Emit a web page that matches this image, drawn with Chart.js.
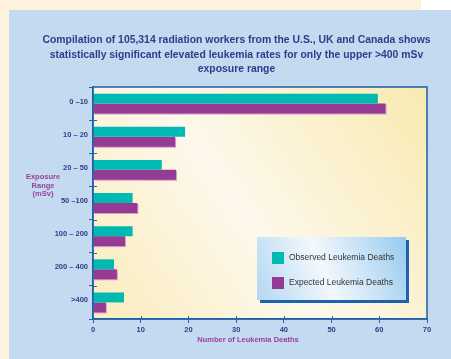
<!DOCTYPE html>
<html lang="en">
<head>
    <meta charset="UTF-8">
    <title>Leukemia deaths by exposure range</title>
    <script src="https://cdn.jsdelivr.net/npm/chart.js"></script>
    <style>
        body {
            margin: 0;
            padding: 0;
            overflow: hidden;
            background-color: #fef2dc;
        }
    </style>
</head>
<body>
<canvas id="leukemiaChart" width="451" height="359"></canvas>

<script>
    // data
    const exposureRanges = ['0 \u201310', '10 \u2013 20', '20 \u2013 50', '50 \u2013100', '100 \u2013 200', '200 \u2013 400', '>400'];
    const observedDeaths = [59.7, 19.3, 14.4, 8.3, 8.3, 4.4, 6.5];
    const expectedDeaths = [61.3, 17.2, 17.4, 9.3, 6.7, 5.0, 2.7];
    const xTicks = [0, 10, 20, 30, 40, 50, 60, 70];
    const seriesNames = ['Observed Leukemia Deaths', 'Expected Leukemia Deaths'];
    const titleLines = [
        'Compilation of 105,314 radiation workers from the U.S., UK and Canada shows',
        'statistically significant elevated leukemia rates for only the upper >400 mSv',
        'exposure range'
    ];
    const yTitleLines = ['Exposure', 'Range', '(mSv)'];
    const xTitle = 'Number of Leukemia Deaths';

    const NAVY = '#2f3c8a';
    const PURPLE = '#9a3f9c';
    const AXIS = '#2566aa';
    const TEAL = '#00b9b0';
    const MAGENTA = '#953b93';
    const FONT = '"Liberation Sans", Arial, sans-serif';

    // backgrounds, title, y title, plot border, legend box
    const decorations = {
        id: 'decorations',
        beforeDraw(chart) {
            const ctx = chart.ctx;
            const a = chart.chartArea;
            ctx.save();
            ctx.fillStyle = '#fef2dc';
            ctx.fillRect(0, 0, 451, 359);
            ctx.fillStyle = '#ffffff';
            ctx.fillRect(421, 0, 30, 10);
            ctx.fillStyle = '#c3daf0';
            ctx.fillRect(9, 10, 442, 349);

            // plot area gradient
            const g = ctx.createLinearGradient(a.left, a.bottom, a.right, a.top);
            g.addColorStop(0, '#fbecbc');
            g.addColorStop(0.45, '#fdf8ec');
            g.addColorStop(1, '#f9eab0');
            ctx.fillStyle = g;
            ctx.fillRect(a.left, a.top, a.right - a.left, a.bottom - a.top);

            // title
            ctx.fillStyle = NAVY;
            ctx.font = 'bold 10.4px ' + FONT;
            ctx.textAlign = 'center';
            ctx.textBaseline = 'middle';
            const ty = [40.5, 55, 69.5];
            titleLines.forEach((t, i) => ctx.fillText(t, 236.5, ty[i]));

            // y axis title
            ctx.fillStyle = PURPLE;
            ctx.font = 'bold 7.5px ' + FONT;
            yTitleLines.forEach((t, i) => ctx.fillText(t, 43, 177 + i * 8.7));

            // x axis title
            ctx.fillText(xTitle, 248, 340);
            ctx.restore();
        },
        beforeDatasetDraw(chart, args) {
            if (args.index === 1) {
                const ctx = chart.ctx;
                ctx.save();
                ctx.shadowColor = 'rgba(210, 140, 200, 0.85)';
                ctx.shadowOffsetX = 1;
                ctx.shadowOffsetY = 1;
            }
        },
        afterDatasetDraw(chart, args) {
            if (args.index === 1) {
                chart.ctx.restore();
            }
        },
        afterDraw(chart) {
            const ctx = chart.ctx;
            const a = chart.chartArea;
            ctx.save();
            ctx.strokeStyle = '#1d5ea8';
            ctx.lineWidth = 1.5;
            ctx.strokeRect(a.left, a.top, a.right - a.left, a.bottom - a.top);

            // short inner halves of the axis ticks
            ctx.strokeStyle = AXIS;
            ctx.lineWidth = 1;
            ctx.beginPath();
            const n = exposureRanges.length;
            for (let i = 1; i < n; i++) {
                const y = Math.round(a.top + i * (a.bottom - a.top) / n) + 0.5;
                ctx.moveTo(a.left, y);
                ctx.lineTo(a.left + 4, y);
            }
            const xs = chart.scales.x;
            xTicks.slice(1, -1).forEach(v => {
                const x = Math.round(xs.getPixelForValue(v)) + 0.5;
                ctx.moveTo(x, a.bottom);
                ctx.lineTo(x, a.bottom - 3);
            });
            ctx.stroke();

            // legend box with shadow
            const lx = 257, ly = 237, lw = 149, lh = 63;
            ctx.fillStyle = '#1b63b0';
            ctx.fillRect(lx + 3, ly + 3, lw, lh);
            const lg = ctx.createLinearGradient(lx, ly + lh, lx + lw, ly);
            lg.addColorStop(0, '#b3d7f2');
            lg.addColorStop(0.45, '#f3f8fd');
            lg.addColorStop(1, '#98caef');
            ctx.fillStyle = lg;
            ctx.fillRect(lx, ly, lw, lh);

            const colors = [TEAL, MAGENTA];
            ctx.font = '8.5px ' + FONT;
            ctx.textAlign = 'left';
            ctx.textBaseline = 'middle';
            seriesNames.forEach((name, i) => {
                const y = 252 + i * 25;
                ctx.fillStyle = colors[i];
                ctx.fillRect(272, y, 12, 12);
                ctx.fillStyle = '#333333';
                ctx.fillText(name, 289, y + 5.5);
            });
            ctx.restore();
        }
    };

    const ctx = document.getElementById('leukemiaChart').getContext('2d');
    new Chart(ctx, {
        type: 'bar',
        data: {
            labels: exposureRanges,
            datasets: [{
                label: seriesNames[0],
                data: observedDeaths,
                backgroundColor: TEAL,
                categoryPercentage: 0.6,
                barPercentage: 1.0
            }, {
                label: seriesNames[1],
                data: expectedDeaths,
                backgroundColor: MAGENTA,
                categoryPercentage: 0.6,
                barPercentage: 1.0
            }]
        },
        options: {
            indexAxis: 'y',
            responsive: false,
            animation: false,
            devicePixelRatio: 1,
            layout: {
                padding: {left: 0, top: 87, right: 24, bottom: 0}
            },
            plugins: {
                legend: {display: false},
                title: {display: false},
                tooltip: {enabled: false}
            },
            scales: {
                x: {
                    type: 'linear',
                    min: 0,
                    max: 70,
                    afterBuildTicks: scale => {
                        scale.ticks = xTicks.map(v => ({value: v}));
                    },
                    afterFit: scale => {
                        scale.height = 40;
                    },
                    ticks: {
                        color: NAVY,
                        font: {family: FONT, size: 7.5, weight: 'bold'},
                        padding: 2
                    },
                    grid: {
                        drawOnChartArea: false,
                        tickLength: 4,
                        color: AXIS
                    },
                    border: {color: AXIS, width: 1.5}
                },
                y: {
                    afterFit: scale => {
                        scale.width = 93;
                    },
                    ticks: {
                        color: NAVY,
                        font: {family: FONT, size: 7.5, weight: 'bold'},
                        padding: 1,
                        labelOffset: -2
                    },
                    grid: {
                        offset: true,
                        drawOnChartArea: false,
                        tickLength: 4,
                        color: AXIS
                    },
                    border: {color: AXIS, width: 1.5}
                }
            }
        },
        plugins: [decorations]
    });
</script>
</body>
</html>
